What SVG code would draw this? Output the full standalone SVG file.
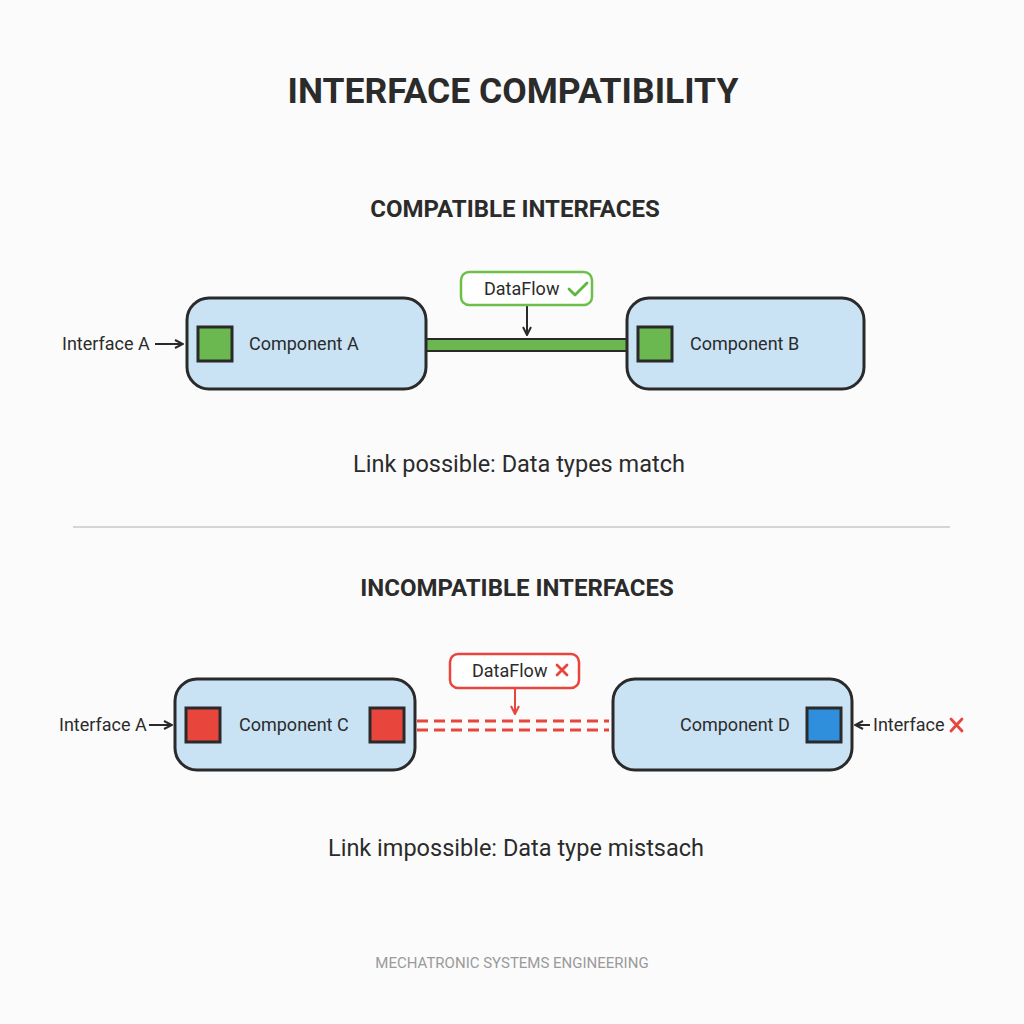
<svg xmlns="http://www.w3.org/2000/svg" width="1024" height="1024" viewBox="0 0 1024 1024">
<style>
.bg{fill:#fbfbfb}
.title{font-family:Roboto,"Liberation Sans",sans-serif;font-weight:bold;fill:#2b2b2b;text-anchor:middle}
.lbl{font-family:Roboto,"Liberation Sans",sans-serif;font-size:18px;fill:#2b2b2b}
.cap{font-family:Roboto,"Liberation Sans",sans-serif;font-size:23.5px;fill:#2b2b2b;text-anchor:middle}
.comp{fill:#c9e3f5;stroke:#2a2a2a;stroke-width:3}
.port{stroke:#2a2a2a;stroke-width:3}
.g{fill:#6ab84f}
.r{fill:#e8453c}
.b{fill:#2f8fdc}
.arrow{stroke:#2a2a2a;stroke-width:2;fill:none}
.dash{stroke:#e8453c;stroke-width:3;stroke-dasharray:11 6;fill:none}
.ok{stroke:#5cb83c;stroke-width:2.8;fill:none;stroke-linecap:round;stroke-linejoin:round}
.no{stroke:#e8453c;stroke-width:2.8;fill:none;stroke-linecap:round}
</style>
<defs>
<marker id="ah" viewBox="0 0 10 10" refX="9" refY="5" markerWidth="10" markerHeight="10" markerUnits="userSpaceOnUse" orient="auto">
<path d="M1,1 L9,5 L1,9" fill="none" stroke="#2a2a2a" stroke-width="2"/>
</marker>
<marker id="ahr" viewBox="0 0 10 10" refX="9" refY="5" markerWidth="10" markerHeight="10" markerUnits="userSpaceOnUse" orient="auto">
<path d="M1,1 L9,5 L1,9" fill="none" stroke="#e8453c" stroke-width="2"/>
</marker>
</defs>
<rect class="bg" x="0" y="0" width="1024" height="1024"/>
<text class="title" x="513" y="103" font-size="35.5">INTERFACE COMPATIBILITY</text>
<text class="title" x="515" y="217" font-size="24">COMPATIBLE INTERFACES</text>
<text class="title" x="517" y="596" font-size="24">INCOMPATIBLE INTERFACES</text>
<line x1="73" y1="527" x2="950" y2="527" stroke="#c8c8c8" stroke-width="1.5"/>
<text class="cap" x="519" y="472">Link possible: Data types match</text>
<text class="cap" x="516" y="856">Link impossible: Data type mistsach</text>
<text x="512" y="968" font-family="Roboto,'Liberation Sans',sans-serif" font-size="15" fill="#9a9a9a" text-anchor="middle">MECHATRONIC SYSTEMS ENGINEERING</text>

<g id="connectors">
<rect x="426" y="339" width="202" height="12" fill="#6ab84f" stroke="#2a2a2a" stroke-width="2"/>
<line class="arrow" x1="155" y1="344" x2="183" y2="344" marker-end="url(#ah)"/>
<line class="arrow" x1="527" y1="306" x2="527" y2="335" marker-end="url(#ah)"/>
<line class="dash" x1="417" y1="721" x2="609" y2="721"/>
<line class="dash" x1="417" y1="730" x2="609" y2="730"/>
<line class="arrow" x1="149" y1="725" x2="172" y2="725" marker-end="url(#ah)"/>
<line x1="515" y1="689" x2="515" y2="714" stroke="#e8453c" stroke-width="2" marker-end="url(#ahr)"/>
<line class="arrow" x1="870" y1="725" x2="855" y2="725" marker-end="url(#ah)"/>
</g>

<g id="label-interface-a1"><text class="lbl" x="62" y="350">Interface A</text></g>
<g id="component-a">
<rect class="comp" x="187" y="298" width="239" height="91" rx="22"/>
<rect class="port g" x="198" y="327" width="34" height="34"/>
<text class="lbl" x="249" y="350">Component A</text>
</g>
<g id="dataflow-ok">
<rect x="461" y="272" width="131" height="33" rx="8" fill="#ffffff" stroke="#6cc04a" stroke-width="2.5"/>
<text class="lbl" x="484" y="295" font-size="17">DataFlow</text>
<path class="ok" d="M569,289 L575,295 L587,283"/>
</g>
<g id="component-b">
<rect class="comp" x="627" y="298" width="237" height="91" rx="22"/>
<rect class="port g" x="638" y="327" width="34" height="34"/>
<text class="lbl" x="690" y="350">Component B</text>
</g>

<g id="label-interface-a2"><text class="lbl" x="59" y="731">Interface A</text></g>
<g id="component-c">
<rect class="comp" x="175" y="679" width="240" height="91" rx="22"/>
<rect class="port r" x="186" y="708" width="34" height="34"/>
<rect class="port r" x="370" y="708" width="34" height="34"/>
<text class="lbl" x="239" y="731">Component C</text>
</g>
<g id="dataflow-bad">
<rect x="450" y="654" width="129" height="34" rx="8" fill="#ffffff" stroke="#e8453c" stroke-width="2.5"/>
<text class="lbl" x="472" y="677" font-size="17">DataFlow</text>
<path class="no" d="M557,665 L567,675 M567,665 L557,675"/>
</g>
<g id="component-d">
<rect class="comp" x="613" y="679" width="239" height="91" rx="22"/>
<rect class="port b" x="807" y="708" width="34" height="34"/>
<text class="lbl" x="680" y="731">Component D</text>
</g>
<g id="label-interface-x">
<text class="lbl" x="873" y="731">Interface</text>
<path class="no" d="M951,719 L962,731 M962,719 L951,731"/>
</g>
</svg>
